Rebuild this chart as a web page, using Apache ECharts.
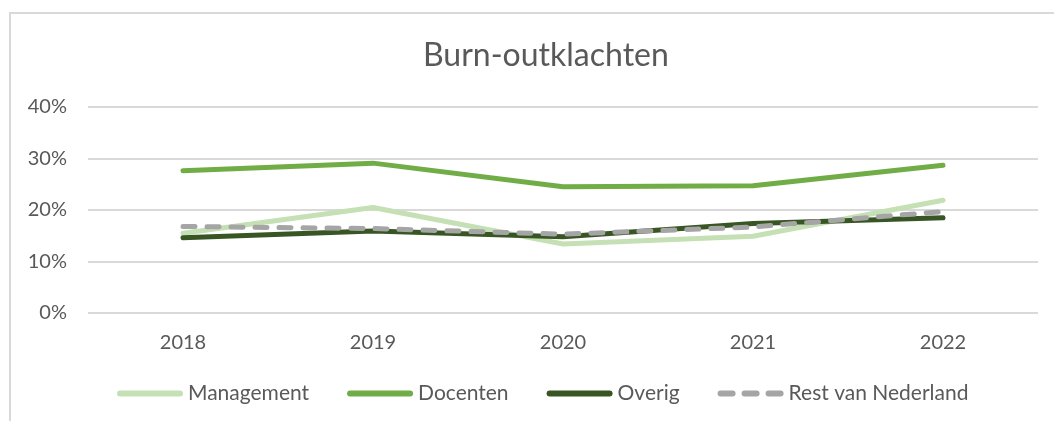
<!DOCTYPE html>
<html>
<head>
<meta charset="utf-8">
<script src="https://cdn.jsdelivr.net/npm/echarts@6/dist/echarts.min.js"></script>
<style>
  html, body { margin: 0; padding: 0; background: #fff; }
  #burnout { width: 1054px; height: 421px; }
</style>
</head>
<body>
<div id="burnout"></div>
<script>
var years = ['2018', '2019', '2020', '2021', '2022'];
var management = [15.5, 20.5, 13.4, 14.9, 21.9];
var docenten = [27.6, 29.1, 24.5, 24.7, 28.7];
var overig = [14.6, 15.9, 14.8, 17.4, 18.5];
var restNL = [16.8, 16.4, 15.3, 16.7, 19.7];

var font = "Lato, 'Open Sans', sans-serif";
var grey = '#595959';

// legend icons: a pill for solid lines, three pills for the dashed one
var pill = 'path://M3,0h60a3,3 0 0 1 0,6h-60a3,3 0 0 1 0,-6z';
var dashPills = 'path://M3,0h12a3,3 0 0 1 0,6h-12a3,3 0 0 1 0,-6z' +
  'M27,0h12a3,3 0 0 1 0,6h-12a3,3 0 0 1 0,-6z' +
  'M51,0h12a3,3 0 0 1 0,6h-12a3,3 0 0 1 0,-6z';

var chart = echarts.init(document.getElementById('burnout'));

function lineSeries(name, data, color, dashed) {
  return {
    name: name,
    type: 'line',
    data: data,
    symbol: 'none',
    lineStyle: {
      color: color,
      width: 5,
      type: dashed ? [12, 12] : 'solid',
      cap: 'round',
      join: 'round'
    },
    itemStyle: { color: color }
  };
}

var option = {
  animation: false,
  textStyle: { fontFamily: font },
  graphic: [{
    type: 'rect',
    shape: { x: 10, y: 13, width: 1100, height: 500 },
    style: { fill: 'none', stroke: '#d9d9d9', lineWidth: 2 },
    silent: true
  }],
  title: {
    text: 'Burn-outklachten',
    left: 418,
    top: 35,
    textStyle: { fontFamily: font, fontSize: 32, fontWeight: 'normal', color: grey }
  },
  legend: {
    top: 378,
    left: 112,
    itemWidth: 66,
    itemHeight: 6,
    itemGap: 38,
    textStyle: { fontFamily: font, fontSize: 21, color: grey },
    data: [
      { name: 'Management', icon: pill },
      { name: 'Docenten', icon: pill },
      { name: 'Overig', icon: pill },
      { name: 'Rest van Nederland', icon: dashPills }
    ]
  },
  grid: { left: 88, right: 16, top: 107, bottom: 108 },
  xAxis: {
    type: 'category',
    data: years,
    boundaryGap: true,
    axisLine: { show: false },
    axisTick: { show: false },
    axisLabel: { color: grey, fontSize: 20, fontFamily: font, margin: 20 }
  },
  yAxis: {
    type: 'value',
    min: 0,
    max: 40,
    interval: 10,
    axisLabel: { formatter: '{value}%', color: grey, fontSize: 20, fontFamily: font, margin: 21 },
    splitLine: { lineStyle: { color: '#d9d9d9', width: 2 } }
  },
  series: [
    lineSeries('Management', management, '#c5e0b4', false),
    lineSeries('Docenten', docenten, '#70ad47', false),
    lineSeries('Overig', overig, '#375623', false),
    lineSeries('Rest van Nederland', restNL, '#a5a5a5', true)
  ]
};

chart.setOption(option);
</script>
</body>
</html>
